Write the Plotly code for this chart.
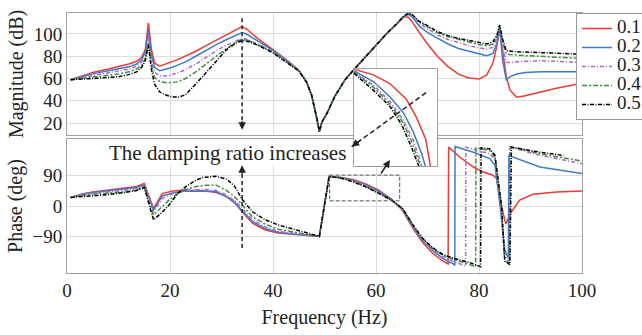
import plotly.graph_objects as go

# ---------------- data ----------------
damping = ["0.1", "0.2", "0.3", "0.4", "0.5"]
colors = ["#ee3b36", "#3d7cc9", "#b266c8", "#3f8f3f", "#000000"]
dashes = ["solid", "solid", "4px,2px,1px,2px", "5px,2px,2px,2px", "4px,1.5px,1px,1.5px"]

mag_freq = [0.7, 3, 5, 8, 10, 12, 13.5, 14.5, 15.2, 15.8,
            16.4, 17, 18, 19, 20, 21.5, 23, 25, 27, 29,
            31, 33, 34, 35, 37, 40, 43, 45, 46.5, 47.5,
            48.5, 49, 49.5, 50.5, 52, 54, 56, 58, 60, 62,
            64, 65.5, 66.3, 67, 68.5, 70, 72, 74, 76, 78,
            80, 81.5, 82.7, 83.5, 84, 84.6, 85.3, 86, 87.3, 89,
            92, 95, 100]

mag_01 = [59, 62.5, 65.5, 68.5, 70.5, 73, 75.5, 79, 86, 110,
          86, 74, 71, 72.5, 74.5, 77, 80, 84.5, 89.5, 94.5,
          99, 104, 106.5, 104, 96, 86, 75.5, 67.5, 57, 45,
          25, 12.5, 21, 29, 44, 59, 69.5, 80, 90.5, 100,
          109, 115.5, 115, 111, 100.6, 91, 79.5, 70.7, 64, 60.5,
          59.5, 63.2, 73.7, 90, 104, 85, 61.7, 49.8, 43.2, 44.5,
          48, 51.3, 55.8]
mag_02 = [59, 61.8, 64.2, 67, 68.6, 70.5, 73, 77, 84, 103.5,
          81, 70, 67, 68, 69.5, 72, 75, 80, 85.5, 90.5,
          95, 99.5, 101.2, 99.5, 94, 85.2, 75, 67.3, 57, 45,
          25, 12.5, 21, 29, 44, 59, 69.5, 80, 90.5, 100,
          109, 116, 117.5, 115.5, 106.5, 101.5, 96, 91, 87, 84.5,
          82, 80.5, 82.5, 92, 106, 76, 59, 61.5, 64, 65.5,
          66, 66, 66]
mag_03 = [59, 61, 63, 65.2, 66.7, 68.5, 71, 75, 81, 96.5,
          76, 65.5, 62.5, 62.3, 63, 65, 68, 73, 79, 85,
          90, 94.5, 96, 95, 91, 84.2, 74.5, 67.2, 57, 45,
          25, 12.5, 21, 29, 44, 59, 69.5, 80, 90.5, 100,
          109, 116.5, 118, 116.5, 109, 105, 99, 95, 92, 89.5,
          87.5, 86.5, 88, 96, 107, 88, 74.5, 74.3, 75, 75.5,
          76, 75.5, 74.3]
mag_04 = [59, 60.3, 61.5, 63, 64, 66, 68.5, 72, 78, 93,
          72, 61, 57.5, 56.5, 56.3, 57, 60, 66, 73, 80.5,
          87, 93, 95.3, 94.5, 90.5, 83.7, 74, 67, 57, 45,
          25, 12.5, 21, 29, 44, 59, 69.5, 80, 90.5, 100,
          109, 116.5, 118.5, 117, 110.5, 106.5, 101, 97.5, 95, 92.5,
          90.5, 89.5, 91, 98, 107.5, 93, 82, 81.5, 81, 80.5,
          80, 79, 78.2]
mag_05 = [59, 59.3, 60, 61, 61.7, 63.5, 66, 70, 76, 90,
          68, 55, 48, 45.5, 44, 43, 45.5, 55, 65.5, 76.5,
          86, 92.5, 94, 93.5, 90, 83, 73.5, 66.8, 57, 45,
          25, 12.5, 21, 29, 44, 59, 69.5, 80, 90.5, 100,
          109, 116.5, 118.5, 117.5, 111, 107.5, 102, 98.5, 96, 94,
          92, 91, 93, 99, 108, 95, 85, 84.5, 84, 83.8,
          83.2, 82.5, 81.8]

ph_freq_01 = [0.7, 3, 5, 8, 11, 13.5, 15, 16.8, 18.5, 20.5, 23, 25, 27, 29, 31, 32.5, 34, 36,
              38.5, 41, 44, 47, 49, 50.9, 53, 55.5, 58, 60.5, 63, 65.2, 67, 69, 71, 73, 74,
              74.1, 76.3, 78.9, 80.8, 82.7, 83.4, 84.4, 85.2, 86.3, 87.9, 90.5, 95, 100]
ph_01 = [25.6, 36, 42, 47, 52, 58, 67, -7, 37, 45, 47, 46.5, 45, 40, 28, 13, -17, -51,
         -71, -80.5, -84, -87, -90, 88, 85.5, 79, 66, 47, 21, -14, -62, -108, -140, -164, -172,
         175, 145, 116, 101, 91.5, 82, -2, -53, -17, 17.7, 35, 42, 45]

ph_freq_02 = [0.7, 3, 5, 8, 11, 13.5, 15, 16.8, 18.5, 20.5, 23, 25, 27, 29, 31, 32.5, 34, 36,
              38.5, 41, 44, 47, 49, 50.9, 53, 55.5, 58, 60.5, 63, 65.2, 67, 69, 71, 73, 75, 75.3,
              75.35, 78.9, 82.1, 83.1, 84.1, 85, 85.7, 85.8, 87.3, 91.8, 100]
ph_02 = [25.6, 35, 40.5, 45.5, 50, 55, 63, -12, 30, 39, 45, 45, 45, 43, 27, 10, -14, -46,
         -67, -78, -83, -87, -90, 88, 85, 77, 63, 44, 20, -11, -57, -102, -132, -156, -172, -177,
         177, 160, 141, 121, 0, -130, -155, 150, 141, 116, 96.5]

ph_freq_03 = [0.7, 3, 5, 8, 11, 13.5, 15, 16.8, 18.5, 20.5, 23, 25, 27, 29, 31, 32.5, 34, 36,
              38.5, 41, 44, 47, 49, 50.9, 53, 55.5, 58, 60.5, 63, 65.2, 67, 69, 71, 73, 75, 77, 77.4,
              77.45, 82.1, 83.1, 84.2, 85, 85.9, 86.0, 91.8, 100]
ph_03 = [25.6, 34, 38, 42, 46.5, 52, 60, -17, 22, 36, 45, 48.5, 49, 46, 33, 16, -6, -41,
         -62, -75, -82, -87, -90, 88, 84.5, 76, 61, 41, 18, -9, -55, -99, -128, -150, -164, -175, -179,
         175, 155.5, 136, 0, -150, -165, 175, 150.5, 126]

ph_freq_04 = [0.7, 3, 5, 8, 11, 13.5, 15, 16.8, 18.5, 19.8, 21.5, 23, 25, 27, 29, 31, 32.5, 34, 36,
              38.5, 41, 44, 47, 49, 50.9, 53, 55.5, 58, 60.5, 63, 65.2, 67, 69, 71, 73, 75, 77, 79, 79.35,
              79.4, 82.1, 83.1, 84.3, 85, 85.9, 86.0, 91.8, 100]
ph_04 = [25.6, 32, 35, 38, 42, 48, 57, -26.5, 0, 17.7, 37, 49, 58, 62, 62, 46, 28, 4, -31.5,
         -54, -69, -78, -85, -90, 88, 84.2, 74.5, 58, 39, 17.5, -8, -53, -96, -126, -146, -158, -168, -177, -180,
         173, 165, 145.5, 0, -159, -170, 177, 155.5, 133.7]

ph_freq_05 = [0.7, 3, 5, 8, 11, 13.5, 15, 16.8, 18.5, 19.8, 21.5, 23, 25, 26.3, 28.9, 31, 32.5, 34, 36,
              38.5, 41, 44, 47, 49, 50.9, 53, 55.5, 58, 60.5, 63, 65.2, 67, 69, 71, 73, 75, 78, 80.3,
              80.4, 82.1, 83.1, 84.4, 85, 86, 86.3, 91.8, 96.4]
ph_05 = [25.6, 28, 29.5, 34, 40, 46, 55, -41, -18, 3, 37.5, 57, 76.7, 84.7, 88.5, 80, 60, 20, -17,
         -41, -56, -69, -80, -90, 88, 83.7, 72, 57, 38, 17.7, -8, -52, -95, -124, -144, -155, -167, -180,
         173, 170, 150.5, 0, -164, -174, 175, 160, 150.5]

# zoomed inset (magnified view of the boxed region)
inset_freq_01 = [51.0, 52.4, 53.6, 54.8, 55.5, 56.2, 56.5, 56.8]
inset_ph_01 = [89.0, 87.9, 86.2, 83.1, 79.7, 75.3, 70.6, 65.0]
inset_freq_02 = [51.0, 52.4, 53.6, 54.6, 55.3, 55.9, 56.15, 56.4]
inset_ph_02 = [88.7, 86.6, 83.6, 80.4, 76.7, 72.5, 70.2, 67.0]
inset_freq_03 = [51.0, 52.4, 53.6, 54.58, 55.3, 55.9, 56.1]
inset_ph_03 = [88.5, 85.9, 82.7, 79.0, 75.1, 70.2, 67.0]
inset_freq_04 = [51.0, 52.4, 53.6, 54.58, 55.19, 55.79, 56.0]
inset_ph_04 = [88.4, 85.5, 82.2, 78.4, 74.8, 70.2, 67.0]
inset_freq_05 = [51.0, 52.4, 53.6, 54.46, 55.06, 55.67, 55.9]
inset_ph_05 = [88.2, 84.9, 81.7, 78.1, 74.4, 70.2, 67.0]

mag_tick_vals = [20, 40, 60, 80, 100]
phase_tick_vals = [-90, 0, 90]
freq_tick_vals = [0, 20, 40, 60, 80, 100]

mags = [mag_01, mag_02, mag_03, mag_04, mag_05]
ph_freqs = [ph_freq_01, ph_freq_02, ph_freq_03, ph_freq_04, ph_freq_05]
phs = [ph_01, ph_02, ph_03, ph_04, ph_05]
inset_freqs = [inset_freq_01, inset_freq_02, inset_freq_03, inset_freq_04, inset_freq_05]
inset_phs = [inset_ph_01, inset_ph_02, inset_ph_03, inset_ph_04, inset_ph_05]

FONT = "Liberation Serif"
fig = go.Figure()

for i in range(5):
    line = dict(color=colors[i], width=1.5, dash=dashes[i])
    fig.add_trace(go.Scatter(x=mag_freq, y=mags[i], mode="lines", line=line,
                             name='<span style="font-size:19px">%s</span>' % damping[i],
                             xaxis="x", yaxis="y", showlegend=True))
for i in range(5):
    line = dict(color=colors[i], width=1.5, dash=dashes[i])
    fig.add_trace(go.Scatter(x=ph_freqs[i], y=phs[i], mode="lines", line=line,
                             xaxis="x2", yaxis="y2", showlegend=False))
for i in range(5):
    line = dict(color=colors[i], width=1.5, dash=dashes[i])
    fig.add_trace(go.Scatter(x=inset_freqs[i], y=inset_phs[i], mode="lines", line=line,
                             xaxis="x3", yaxis="y3", showlegend=False))

grid = "#dcdcdc"
frame = "#a0a0a0"
axcommon = dict(showgrid=True, gridcolor=grid, gridwidth=1, zeroline=False,
                showline=True, linecolor=frame, linewidth=1, mirror=True, ticks="",
                tickfont=dict(family=FONT, size=19, color="#222"))

fig.update_layout(
    width=642, height=335,
    margin=dict(l=67, r=60, t=13, b=62, autoexpand=False),
    paper_bgcolor="white", plot_bgcolor="white",
    font=dict(family=FONT, size=19, color="#222"),
    xaxis=dict(domain=[0, 1], range=[0, 100], anchor="y", matches="x2",
               tickvals=freq_tick_vals, showticklabels=False, **axcommon),
    yaxis=dict(domain=[0.531, 1], range=[9.4, 118.8], anchor="x",
               tickvals=mag_tick_vals,
               title=dict(text="Magnitude (dB)", font=dict(family=FONT, size=20), standoff=4),
               **axcommon),
    xaxis2=dict(domain=[0, 1], range=[0, 100], anchor="y2", tickvals=freq_tick_vals,
                title=dict(text="Frequency (Hz)", font=dict(family=FONT, size=20), standoff=10),
                **axcommon),
    yaxis2=dict(domain=[0, 0.515], range=[-199, 199], anchor="x2", tickvals=phase_tick_vals,
                ticktext=["\u221290", "0", "90"],
                title=dict(text="Phase (deg)", font=dict(family=FONT, size=20), standoff=4),
                **axcommon),
    xaxis3=dict(domain=[0.5573, 0.7179], range=[51, 57], anchor="y3", showgrid=False,
                zeroline=False, showline=True, linecolor=frame, mirror=True,
                showticklabels=False, ticks=""),
    yaxis3=dict(domain=[0.4115, 0.7835], range=[70, 89], anchor="x3", showgrid=False,
                zeroline=False, showline=True, linecolor=frame, mirror=True,
                showticklabels=False, ticks=""),
    legend=dict(x=(576 - 67) / 515, xanchor="left", y=1.0, yanchor="top",
                bgcolor="white", bordercolor="#999", borderwidth=1,
                font=dict(family=FONT, size=11, color="#222"),
                itemwidth=30, tracegroupgap=0),
    showlegend=True,
)

shapes = [
    # white background of the inset
    dict(type="rect", xref="x3", yref="y3", x0=51, x1=57, y0=70, y1=89,
         fillcolor="white", line=dict(width=0), layer="below"),
    # vertical dashed arrow shaft, magnitude plot
    dict(type="line", xref="x", yref="y", x0=34, x1=34, y0=114, y1=16,
         line=dict(color="#222", width=1.5, dash="4px,3px"), layer="above"),
    # vertical dashed arrow shaft, phase plot
    dict(type="line", xref="x2", yref="y2", x0=34, x1=34, y0=-125, y1=116,
         line=dict(color="#222", width=1.5, dash="4px,3px"), layer="above"),
    # dashed rectangle marking the zoomed region
    dict(type="rect", xref="x2", yref="y2", x0=51, x1=64.6, y0=15.5, y1=92,
         line=dict(color="#555", width=1, dash="4px,2px"), layer="above"),
    # dashed line from the inset towards the text
    dict(type="line", xref="paper", yref="paper", x0=0.6971, y0=0.6935, x1=0.5528, y1=0.4858,
         line=dict(color="#222", width=1.5, dash="5px,3px"), layer="above"),
]
fig.update_layout(shapes=shapes)

annotations = [
    dict(text="The damping ratio increases", xref="x2", yref="y2", x=31.2, y=158,
         showarrow=False, font=dict(family=FONT, size=21, color="#222"),
         bgcolor="white", borderpad=0),
    dict(text="", xref="x", yref="y", x=34, y=14, ax=0, ay=-10, showarrow=True,
         arrowhead=2, arrowsize=1, arrowwidth=1.5, arrowcolor="#222", standoff=0),
    dict(text="", xref="x2", yref="y2", x=34, y=121, ax=0, ay=10, showarrow=True,
         arrowhead=2, arrowsize=1, arrowwidth=1.5, arrowcolor="#222", standoff=0),
    dict(text="", xref="paper", yref="paper", x=0.5528, y=0.4858, ax=10, ay=-7.3, showarrow=True,
         arrowhead=2, arrowsize=1, arrowwidth=1.5, arrowcolor="#222", standoff=0),
    dict(text="", xref="paper", yref="paper", x=(390 - 67) / 515, y=(273 - 160) / 260,
         ax=-10, ay=15, showarrow=True,
         arrowhead=2, arrowsize=1, arrowwidth=1.5, arrowcolor="#222", standoff=0),
]
fig.update_layout(annotations=annotations)

fig.write_html("out.html")
